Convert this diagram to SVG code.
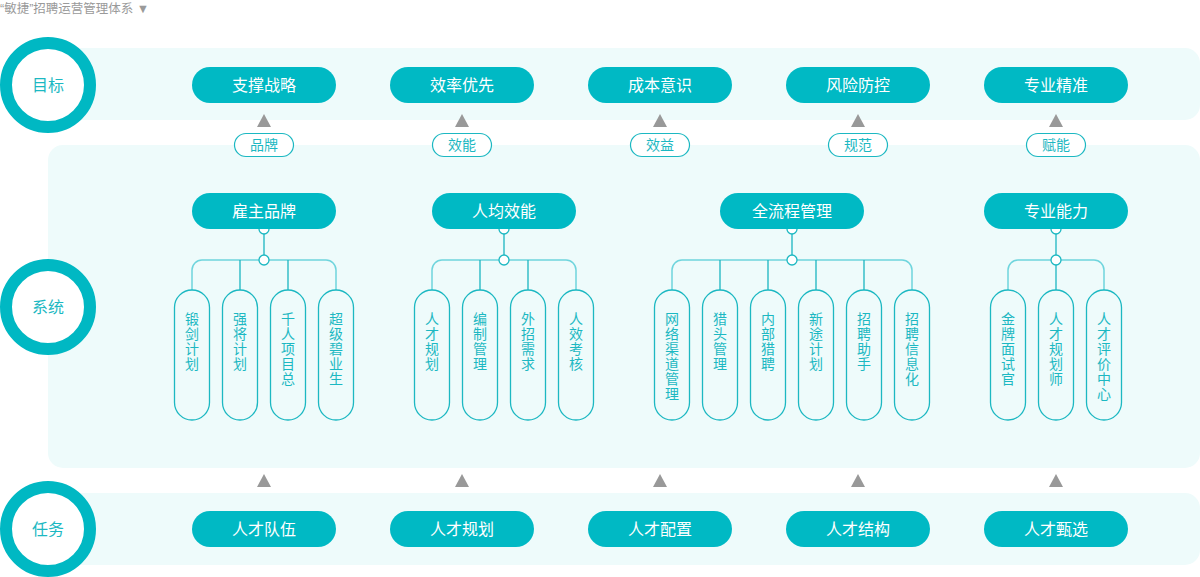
<svg xmlns="http://www.w3.org/2000/svg" width="1200" height="577" viewBox="0 0 1200 577">
<style>
text{font-family:"Noto Sans CJK SC","Noto Sans",sans-serif;}
.title{font-family:"Liberation Sans","Noto Sans CJK SC",sans-serif;font-size:12.5px;fill:#9a9a9a;}
.band{fill:#eefbfb;}
.ring{fill:#fff;stroke:#00b8c3;stroke-width:12;}
.ringt{fill:#1cb8c2;font-size:16px;text-anchor:middle;}
.pill{fill:#00b9c4;}
.pillt{fill:#fff;font-size:16px;text-anchor:middle;}
.tag{fill:#fff;stroke:#1cb8c2;stroke-width:1.2;}
.tagt{fill:#1cb8c2;font-size:14px;text-anchor:middle;}
.tri{fill:#999;}
.vp{fill:none;stroke:#1cb8c2;stroke-width:1.3;}
.vt{fill:#1cb8c2;font-size:14px;text-anchor:middle;}
.br{fill:none;stroke:#6fd5dd;stroke-width:1.5;}
.ln{fill:none;stroke:#1cb5c1;stroke-width:1.3;}
.dot{fill:#fff;stroke:#1cb8c2;stroke-width:1.3;}
</style>
<text class="title" x="0" y="12.5">“敏捷”招聘运营管理体系 ▼</text>

<g id="bands">
<path class="band" d="M48 48 H1185 A15 15 0 0 1 1200 63 V105 A15 15 0 0 1 1185 120 H48 Z"/>
<path class="band" d="M63 145 H1185 A15 15 0 0 1 1200 160 V453 A15 15 0 0 1 1185 468 H63 A15 15 0 0 1 48 453 V160 A15 15 0 0 1 63 145 Z"/>
<path class="band" d="M63 493 H1185 A15 15 0 0 1 1200 508 V550 A15 15 0 0 1 1185 565 H63 A15 15 0 0 1 48 550 V508 A15 15 0 0 1 63 493 Z"/>
</g>

<g id="ring-goal"><circle class="ring" cx="48" cy="85" r="42"/><text class="ringt" x="48" y="91">目标</text></g>
<g id="ring-system"><circle class="ring" cx="48" cy="307" r="42"/><text class="ringt" x="48" y="313">系统</text></g>
<g id="ring-task"><circle class="ring" cx="48" cy="529" r="42"/><text class="ringt" x="48" y="535">任务</text></g>

<g id="goals">
<g id="g1"><rect class="pill" x="192" y="67" width="144" height="36" rx="18"/><text class="pillt" x="264" y="91">支撑战略</text></g>
<g id="g2"><rect class="pill" x="390" y="67" width="144" height="36" rx="18"/><text class="pillt" x="462" y="91">效率优先</text></g>
<g id="g3"><rect class="pill" x="588" y="67" width="144" height="36" rx="18"/><text class="pillt" x="660" y="91">成本意识</text></g>
<g id="g4"><rect class="pill" x="786" y="67" width="144" height="36" rx="18"/><text class="pillt" x="858" y="91">风险防控</text></g>
<g id="g5"><rect class="pill" x="984" y="67" width="144" height="36" rx="18"/><text class="pillt" x="1056" y="91">专业精准</text></g>
</g>

<g id="connectors">
<polygon class="tri" points="264,114 271,127 257,127"/>
<polygon class="tri" points="462,114 469,127 455,127"/>
<polygon class="tri" points="660,114 667,127 653,127"/>
<polygon class="tri" points="858,114 865,127 851,127"/>
<polygon class="tri" points="1056,114 1063,127 1049,127"/>
<polygon class="tri" points="264,474 271,487 257,487"/>
<polygon class="tri" points="462,474 469,487 455,487"/>
<polygon class="tri" points="660,474 667,487 653,487"/>
<polygon class="tri" points="858,474 865,487 851,487"/>
<polygon class="tri" points="1056,474 1063,487 1049,487"/>

<path class="br" d="M192 290 V270 A10 10 0 0 1 202 260 H326 A10 10 0 0 1 336 270 V290"/>
<path class="ln" d="M264 229 V260 M240 260 V290 M288 260 V290"/>
<path class="br" d="M432 290 V270 A10 10 0 0 1 442 260 H566 A10 10 0 0 1 576 270 V290"/>
<path class="ln" d="M504 229 V260 M480 260 V290 M528 260 V290"/>
<path class="br" d="M672 290 V270 A10 10 0 0 1 682 260 H902 A10 10 0 0 1 912 270 V290"/>
<path class="ln" d="M792 229 V260 M720 260 V290 M768 260 V290 M816 260 V290 M864 260 V290"/>
<path class="br" d="M1008 290 V270 A10 10 0 0 1 1018 260 H1094 A10 10 0 0 1 1104 270 V290"/>
<path class="ln" d="M1056 229 V290"/>

<circle class="dot" cx="264" cy="229" r="5"/><circle class="dot" cx="264" cy="260" r="5"/>
<circle class="dot" cx="504" cy="229" r="5"/><circle class="dot" cx="504" cy="260" r="5"/>
<circle class="dot" cx="792" cy="229" r="5"/><circle class="dot" cx="792" cy="260" r="5"/>
<circle class="dot" cx="1056" cy="229" r="5"/><circle class="dot" cx="1056" cy="260" r="5"/>
</g>

<g id="tags">
<g id="t1"><rect class="tag" x="234.5" y="133.5" width="59" height="23" rx="11.5"/><text class="tagt" x="264" y="150">品牌</text></g>
<g id="t2"><rect class="tag" x="432.5" y="133.5" width="59" height="23" rx="11.5"/><text class="tagt" x="462" y="150">效能</text></g>
<g id="t3"><rect class="tag" x="630.5" y="133.5" width="59" height="23" rx="11.5"/><text class="tagt" x="660" y="150">效益</text></g>
<g id="t4"><rect class="tag" x="828.5" y="133.5" width="59" height="23" rx="11.5"/><text class="tagt" x="858" y="150">规范</text></g>
<g id="t5"><rect class="tag" x="1026.5" y="133.5" width="59" height="23" rx="11.5"/><text class="tagt" x="1056" y="150">赋能</text></g>
</g>

<g id="systems">
<g id="s1"><rect class="pill" x="192" y="193" width="144" height="36" rx="18"/><text class="pillt" x="264" y="217">雇主品牌</text></g>
<g id="s2"><rect class="pill" x="432" y="193" width="144" height="36" rx="18"/><text class="pillt" x="504" y="217">人均效能</text></g>
<g id="s3"><rect class="pill" x="720" y="193" width="144" height="36" rx="18"/><text class="pillt" x="792" y="217">全流程管理</text></g>
<g id="s4"><rect class="pill" x="984" y="193" width="144" height="36" rx="18"/><text class="pillt" x="1056" y="217">专业能力</text></g>
</g>

<g id="items">
<g id="i1"><rect class="vp" x="174.5" y="290" width="35" height="130" rx="17.5"/><text class="vt"><tspan x="192" y="324">锻</tspan><tspan x="192" dy="15">剑</tspan><tspan x="192" dy="15">计</tspan><tspan x="192" dy="15">划</tspan></text></g>
<g id="i2"><rect class="vp" x="222.5" y="290" width="35" height="130" rx="17.5"/><text class="vt"><tspan x="240" y="324">强</tspan><tspan x="240" dy="15">将</tspan><tspan x="240" dy="15">计</tspan><tspan x="240" dy="15">划</tspan></text></g>
<g id="i3"><rect class="vp" x="270.5" y="290" width="35" height="130" rx="17.5"/><text class="vt"><tspan x="288" y="324">千</tspan><tspan x="288" dy="15">人</tspan><tspan x="288" dy="15">项</tspan><tspan x="288" dy="15">目</tspan><tspan x="288" dy="15">总</tspan></text></g>
<g id="i4"><rect class="vp" x="318.5" y="290" width="35" height="130" rx="17.5"/><text class="vt"><tspan x="336" y="324">超</tspan><tspan x="336" dy="15">级</tspan><tspan x="336" dy="15">碧</tspan><tspan x="336" dy="15">业</tspan><tspan x="336" dy="15">生</tspan></text></g>

<g id="i5"><rect class="vp" x="414.5" y="290" width="35" height="130" rx="17.5"/><text class="vt"><tspan x="432" y="324">人</tspan><tspan x="432" dy="15">才</tspan><tspan x="432" dy="15">规</tspan><tspan x="432" dy="15">划</tspan></text></g>
<g id="i6"><rect class="vp" x="462.5" y="290" width="35" height="130" rx="17.5"/><text class="vt"><tspan x="480" y="324">编</tspan><tspan x="480" dy="15">制</tspan><tspan x="480" dy="15">管</tspan><tspan x="480" dy="15">理</tspan></text></g>
<g id="i7"><rect class="vp" x="510.5" y="290" width="35" height="130" rx="17.5"/><text class="vt"><tspan x="528" y="324">外</tspan><tspan x="528" dy="15">招</tspan><tspan x="528" dy="15">需</tspan><tspan x="528" dy="15">求</tspan></text></g>
<g id="i8"><rect class="vp" x="558.5" y="290" width="35" height="130" rx="17.5"/><text class="vt"><tspan x="576" y="324">人</tspan><tspan x="576" dy="15">效</tspan><tspan x="576" dy="15">考</tspan><tspan x="576" dy="15">核</tspan></text></g>

<g id="i9"><rect class="vp" x="654.5" y="290" width="35" height="130" rx="17.5"/><text class="vt"><tspan x="672" y="324">网</tspan><tspan x="672" dy="15">络</tspan><tspan x="672" dy="15">渠</tspan><tspan x="672" dy="15">道</tspan><tspan x="672" dy="15">管</tspan><tspan x="672" dy="15">理</tspan></text></g>
<g id="i10"><rect class="vp" x="702.5" y="290" width="35" height="130" rx="17.5"/><text class="vt"><tspan x="720" y="324">猎</tspan><tspan x="720" dy="15">头</tspan><tspan x="720" dy="15">管</tspan><tspan x="720" dy="15">理</tspan></text></g>
<g id="i11"><rect class="vp" x="750.5" y="290" width="35" height="130" rx="17.5"/><text class="vt"><tspan x="768" y="324">内</tspan><tspan x="768" dy="15">部</tspan><tspan x="768" dy="15">猎</tspan><tspan x="768" dy="15">聘</tspan></text></g>
<g id="i12"><rect class="vp" x="798.5" y="290" width="35" height="130" rx="17.5"/><text class="vt"><tspan x="816" y="324">新</tspan><tspan x="816" dy="15">途</tspan><tspan x="816" dy="15">计</tspan><tspan x="816" dy="15">划</tspan></text></g>
<g id="i13"><rect class="vp" x="846.5" y="290" width="35" height="130" rx="17.5"/><text class="vt"><tspan x="864" y="324">招</tspan><tspan x="864" dy="15">聘</tspan><tspan x="864" dy="15">助</tspan><tspan x="864" dy="15">手</tspan></text></g>
<g id="i14"><rect class="vp" x="894.5" y="290" width="35" height="130" rx="17.5"/><text class="vt"><tspan x="912" y="324">招</tspan><tspan x="912" dy="15">聘</tspan><tspan x="912" dy="15">信</tspan><tspan x="912" dy="15">息</tspan><tspan x="912" dy="15">化</tspan></text></g>

<g id="i15"><rect class="vp" x="990.5" y="290" width="35" height="130" rx="17.5"/><text class="vt"><tspan x="1008" y="324">金</tspan><tspan x="1008" dy="15">牌</tspan><tspan x="1008" dy="15">面</tspan><tspan x="1008" dy="15">试</tspan><tspan x="1008" dy="15">官</tspan></text></g>
<g id="i16"><rect class="vp" x="1038.5" y="290" width="35" height="130" rx="17.5"/><text class="vt"><tspan x="1056" y="324">人</tspan><tspan x="1056" dy="15">才</tspan><tspan x="1056" dy="15">规</tspan><tspan x="1056" dy="15">划</tspan><tspan x="1056" dy="15">师</tspan></text></g>
<g id="i17"><rect class="vp" x="1086.5" y="290" width="35" height="130" rx="17.5"/><text class="vt"><tspan x="1104" y="324">人</tspan><tspan x="1104" dy="15">才</tspan><tspan x="1104" dy="15">评</tspan><tspan x="1104" dy="15">价</tspan><tspan x="1104" dy="15">中</tspan><tspan x="1104" dy="15">心</tspan></text></g>
</g>

<g id="tasks">
<g id="k1"><rect class="pill" x="192" y="511" width="144" height="36" rx="18"/><text class="pillt" x="264" y="535">人才队伍</text></g>
<g id="k2"><rect class="pill" x="390" y="511" width="144" height="36" rx="18"/><text class="pillt" x="462" y="535">人才规划</text></g>
<g id="k3"><rect class="pill" x="588" y="511" width="144" height="36" rx="18"/><text class="pillt" x="660" y="535">人才配置</text></g>
<g id="k4"><rect class="pill" x="786" y="511" width="144" height="36" rx="18"/><text class="pillt" x="858" y="535">人才结构</text></g>
<g id="k5"><rect class="pill" x="984" y="511" width="144" height="36" rx="18"/><text class="pillt" x="1056" y="535">人才甄选</text></g>
</g>
</svg>
